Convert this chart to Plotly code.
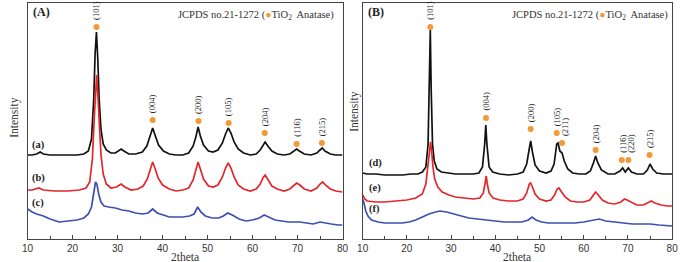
import plotly.graph_objects as go

# ---------------- Panel A data (2theta, intensity a.u.) ----------------
theta_a = [10, 11, 12, 12.8, 13.5, 15, 17, 19, 21, 22.5, 23.5, 24.2, 24.7, 25.0, 25.3, 25.6, 25.9, 26.3, 26.8,
           27.5, 28.5, 29.5, 30.3, 30.8, 31.4, 32.5, 34, 35.5, 36.5, 37.2, 37.8, 38.4, 39.1, 40.2, 41.5, 43,
           44.5, 45.8, 46.8, 47.4, 47.9, 48.4, 49.1, 50.2, 51.2, 52.3, 53.3, 54.0, 54.6, 55.2, 55.9, 56.8, 58,
           59.5, 60.8, 61.7, 62.3, 62.8, 63.4, 64.3, 65.5, 67, 68.3, 69.2, 69.8, 70.4, 71.5, 73, 74.3, 75.0,
           75.5, 76.1, 77.3, 78.5, 80]
int_a = [84, 84, 85, 87, 85, 84, 84, 84, 84, 85, 88, 100, 140, 185, 207, 180, 140, 110, 95,
         89, 86, 86, 88, 90, 88, 85, 85, 87, 93, 102, 111, 103, 94, 88, 85, 84,
         84, 86, 93, 102, 112, 103, 94, 88, 87, 89, 96, 105, 111, 106, 97, 90, 86,
         84, 85, 89, 94, 97, 93, 88, 85, 84, 85, 88, 90, 88, 85, 84, 86, 89,
         91, 88, 85, 84, 84]

theta_b = [10, 11, 12.5, 13.5, 16, 19, 21.5, 23, 23.8, 24.4, 24.8, 25.1, 25.35, 25.6, 25.9, 26.3, 26.8, 27.5,
           28.5, 29.8, 30.8, 31.6, 33, 34.5, 35.7, 36.6, 37.3, 37.8, 38.3, 39, 40, 41.5, 43, 44.5, 45.8, 46.8,
           47.4, 47.9, 48.4, 49.1, 50.2, 51.2, 52.3, 53.3, 54.0, 54.6, 55.2, 55.9, 56.8, 58, 59.5, 60.8, 61.7,
           62.3, 62.8, 63.4, 64.3, 65.5, 67, 68.3, 69.2, 69.8, 70.5, 71.5, 73, 74.3, 75.0, 75.6, 76.2, 77.3,
           78.5, 80]
int_b = [49, 49, 51, 49, 48, 48, 49, 51, 57, 80, 120, 150, 164, 145, 115, 85, 65, 55,
         51, 52, 55, 52, 49, 50, 53, 60, 70, 77, 71, 61, 54, 50, 48, 49, 51, 59,
         69, 77, 70, 60, 53, 52, 54, 62, 71, 76, 71, 62, 54, 50, 48, 50, 55,
         61, 64, 60, 53, 50, 48, 50, 54, 56, 54, 50, 48, 51, 55, 57, 54, 50,
         48, 47]

theta_c = [10, 11, 12, 13.5, 15, 17, 19, 21, 22.5, 23.5, 24.2, 24.7, 25.1, 25.4, 25.8, 26.3, 27, 28, 29.5,
           31, 32.5, 34, 35.5, 36.8, 37.8, 38.8, 40, 41.5, 43, 44.5, 46, 47, 47.8, 48.5, 49.5, 51, 52.5,
           53.5, 54.5, 55.5, 57, 58.5, 60, 61.5, 62.6, 63.6, 65, 66.5, 68, 69.5, 70.5, 72, 73.5, 75, 76,
           77.5, 79, 80]
int_c = [30, 27, 25, 23, 20, 17, 18, 19, 21, 25, 32, 45, 57, 55, 45, 37, 33, 32, 31,
         29, 28, 26, 25, 26, 30, 26, 24, 22, 22, 22, 23, 25, 32, 27, 23, 21, 21,
         23, 26, 24, 20, 18, 19, 21, 24, 22, 19, 18, 17, 17, 17, 16, 15, 17, 16,
         15, 14, 14]

# ---------------- Panel B data ----------------
theta_d = [10, 11, 13, 15, 17, 19, 21, 22.5, 23.5, 24.3, 24.8, 25.1, 25.3, 25.5, 25.8, 26.2, 26.8, 27.8, 29,
           31, 33, 35, 36.3, 37.1, 37.6, 37.85, 38.1, 38.6, 39.4, 41, 43, 45, 46.3, 47.1, 47.6, 48.0, 48.4,
           49, 50, 51.5, 52.6, 53.3, 53.9, 54.2, 54.6, 55.1, 55.6, 56.4, 57.5, 59, 60.5, 61.5, 62.2, 62.7,
           63.2, 64, 65.5, 67, 68.2, 68.8, 69.4, 70.1, 70.8, 72, 73.5, 74.4, 75.0, 75.6, 76.5, 78, 80]
int_d = [66, 65, 65, 64, 64, 64, 65, 65, 67, 72, 95, 150, 209, 150, 95, 78, 70, 67, 66,
         65, 65, 65, 66, 72, 95, 114, 95, 72, 67, 65, 64, 65, 67, 75, 88, 98, 87,
         74, 68, 66, 68, 75, 95, 96, 88, 86, 78, 70, 66, 65, 65, 68, 76, 83,
         76, 69, 65, 65, 68, 71, 67, 71, 67, 65, 65, 69, 75, 70, 66, 65, 65]

theta_e = [10, 10.5, 11, 13, 15, 18, 20, 22, 23.5, 24.3, 24.8, 25.1, 25.35, 25.6, 25.9, 26.3, 27, 28, 29.5,
           31, 33, 35, 36.5, 37.3, 37.7, 37.95, 38.2, 38.6, 39.5, 41, 43, 45, 46.3, 47.1, 47.7, 48.0, 48.4,
           49, 50, 51.5, 52.6, 53.4, 54.0, 54.4, 55.0, 55.8, 57, 58.5, 60, 61.4, 62.2, 62.7, 63.3, 64.2,
           65.5, 67, 68.4, 69.2, 69.8, 70.6, 72, 73.5, 74.5, 75.3, 76.1, 77.5, 79, 80]
int_e = [44, 40, 38, 37, 37, 38, 39, 41, 45, 55, 75, 90, 97, 88, 72, 60, 52, 47, 44,
         42, 41, 40, 41, 46, 56, 63, 55, 46, 41, 39, 38, 38, 40, 46, 55, 56, 52,
         45, 40, 38, 39, 44, 50, 51, 47, 42, 38, 37, 37, 39, 44, 47, 44, 39,
         36, 35, 37, 40, 39, 37, 34, 34, 36, 38, 36, 34, 33, 33]

theta_f = [10, 10.3, 10.7, 11.2, 12, 13.5, 15, 17, 19, 20.5, 22, 23.5, 25, 26.5, 27.5, 29, 30.5, 32, 34, 36,
           38, 40, 42, 44, 46, 47.5, 48.3, 49.2, 50.5, 52, 54, 56, 58, 60, 62, 63.5, 65, 67, 69, 71, 73, 75,
           77, 79, 80]
int_f = [40, 36, 28, 23, 19, 17, 16, 16, 16, 17, 19, 22, 25, 27, 28, 27, 25, 23, 21, 20,
         19, 18, 17, 17, 17, 19, 22, 19, 17, 16, 16, 16, 16, 17, 19, 20, 18, 17, 16, 15, 15, 15,
         14, 13, 13]

# ---------------- Reference peak markers (JCPDS 21-1272) ----------------
peaks_A_pos = [25.3, 37.8, 48.0, 54.7, 62.7, 69.8, 75.4]
peaks_A_h = [212, 119, 118, 116, 106, 95, 96]
peaks_A_lbl = ["(101)", "(004)", "(200)", "(105)", "(204)", "(116)", "(215)"]

peaks_B_pos = [25.3, 37.9, 48.0, 53.9, 55.1, 62.7, 68.6, 70.1, 74.9]
peaks_B_h = [212, 121, 110, 106, 96, 89, 79, 79, 84]
peaks_B_lbl = ["(101)", "(004)", "(200)", "(105)", "(211)", "(204)", "(116)", "(220)", "(215)"]

curve_labels_A = ["(a)", "(b)", "(c)"]
curve_labels_B = ["(d)", "(e)", "(f)"]

BLACK = "#111111"
RED = "#E3262B"
BLUE = "#3C4FB4"
ORANGE = "#F29A38"
SERIF = "Liberation Serif"
SANS = "Liberation Sans"

W, H = 686, 262
fig = go.Figure()

def addline(x, y, color, xa, ya):
    fig.add_trace(go.Scatter(x=x, y=y, mode="lines", line=dict(color=color, width=1.7),
                             xaxis=xa, yaxis=ya, showlegend=False, hoverinfo="skip"))

addline(theta_a, int_a, BLACK, "x", "y")
addline(theta_b, int_b, RED, "x", "y")
addline(theta_c, int_c, BLUE, "x", "y")
addline(theta_d, int_d, BLACK, "x2", "y2")
addline(theta_e, int_e, RED, "x2", "y2")
addline(theta_f, int_f, BLUE, "x2", "y2")

fig.add_trace(go.Scatter(x=peaks_A_pos, y=peaks_A_h, mode="markers",
                         marker=dict(color=ORANGE, size=6), xaxis="x", yaxis="y",
                         showlegend=False, hoverinfo="skip"))
fig.add_trace(go.Scatter(x=peaks_B_pos, y=peaks_B_h, mode="markers",
                         marker=dict(color=ORANGE, size=6), xaxis="x2", yaxis="y2",
                         showlegend=False, hoverinfo="skip"))

ann = []
def peak_labels(pos, h, lbl, xr, yr, xshift=None):
    for i, (p, v, t) in enumerate(zip(pos, h, lbl)):
        ann.append(dict(x=p, y=v, xref=xr, yref=yr, text=t, showarrow=False, textangle=-90,
                        xanchor="center", yanchor="bottom", yshift=5,
                        xshift=(xshift[i] if xshift else 0),
                        font=dict(family=SERIF, size=8.5, color="#222")))

peak_labels(peaks_A_pos, peaks_A_h, peaks_A_lbl, "x", "y")
peak_labels(peaks_B_pos, peaks_B_h, peaks_B_lbl, "x2", "y2", [0, 0, 0, 0, 3, 0, 1, 2, 0])

def px_x(px):
    return px / W

def px_y(py):
    return (H - py) / H

# Curve labels
for t, py in zip(curve_labels_A, [145, 178, 203]):
    ann.append(dict(x=px_x(24), y=px_y(py), xref="paper", yref="paper", text="<b>%s</b>" % t,
                    showarrow=False, xanchor="left", yanchor="middle",
                    font=dict(family=SERIF, size=10.5, color="#222")))
for t, py in zip(curve_labels_B, [163, 188, 209]):
    ann.append(dict(x=px_x(367), y=px_y(py), xref="paper", yref="paper", text="<b>%s</b>" % t,
                    showarrow=False, xanchor="left", yanchor="middle",
                    font=dict(family=SERIF, size=10.5, color="#222")))

# Panel letters
for t, px in [("(A)", 25), ("(B)", 366)]:
    ann.append(dict(x=px_x(px), y=px_y(12), xref="paper", yref="paper", text="<b>%s</b>" % t,
                    showarrow=False, xanchor="left", yanchor="middle",
                    font=dict(family=SERIF, size=12, color="#222")))

# JCPDS legend text
jc = "JCPDS no.21-1272 (<span style='color:%s'>●</span>TiO<sub>2</sub>  Anatase)" % ORANGE
for px in [173, 513]:
    ann.append(dict(x=px_x(px), y=px_y(15), xref="paper", yref="paper", text=jc,
                    showarrow=False, xanchor="left", yanchor="middle",
                    font=dict(family=SERIF, size=10.5, color="#333")))

# Axis titles
for cx in [182, 520]:
    ann.append(dict(x=px_x(cx), y=px_y(257), xref="paper", yref="paper", text="2theta",
                    showarrow=False, xanchor="center", yanchor="middle",
                    font=dict(family=SERIF, size=11.5, color="#333")))
for cx, cy in [(8, 118), (354, 112)]:
    ann.append(dict(x=px_x(cx), y=px_y(cy), xref="paper", yref="paper", text="Intensity",
                    showarrow=False, xanchor="center", yanchor="middle", textangle=-90,
                    font=dict(family=SERIF, size=11.5, color="#333")))

xcommon = dict(range=[10, 80], tickvals=[10, 20, 30, 40, 50, 60, 70, 80], ticks="inside",
               ticklen=4, tickcolor="#444", showgrid=False, zeroline=False,
               showline=True, linecolor="#444", linewidth=1.2, mirror=True,
               tickfont=dict(family=SANS, size=10, color="#333"),
               minor=dict(dtick=5, ticks="inside", ticklen=3, tickcolor="#444", showgrid=False))
ycommon = dict(range=[0, 236], showticklabels=False, ticks="", showgrid=False, zeroline=False,
               showline=True, linecolor="#444", linewidth=1.2, mirror=True,
               domain=[px_y(239), px_y(3)])

fig.update_layout(
    width=W, height=H, margin=dict(l=0, r=0, t=0, b=0),
    paper_bgcolor="white", plot_bgcolor="white",
    xaxis=dict(xcommon, domain=[px_x(22), px_x(342.5)], anchor="y"),
    yaxis=dict(ycommon, anchor="x"),
    xaxis2=dict(xcommon, domain=[px_x(363), px_x(678)], anchor="y2"),
    yaxis2=dict(ycommon, anchor="x2"),
    annotations=ann,
)

fig.write_html("out.html")
